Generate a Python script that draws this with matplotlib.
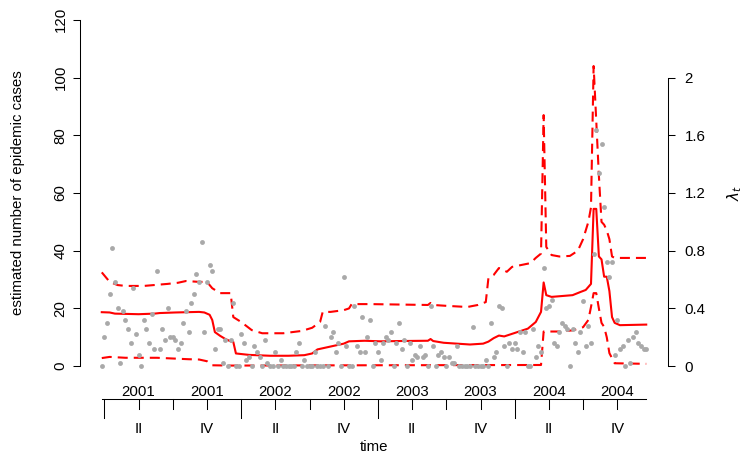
import matplotlib
matplotlib.use("Agg")
import matplotlib.pyplot as plt
import matplotlib.transforms as mtransforms

# observed weekly counts 2001-2004
counts = [
    0, 10, 15, 25, 41, 29, 20, 1, 19, 16, 13, 8, 27, 11, 4, 0, 16, 13, 8, 18,
    6, 33, 6, 13, 9, 20, 10, 10, 9, 6, 8, 15, 19, 12, 22, 25, 32, 29, 43, 12,
    29, 35, 33, 6, 13, 13, 1, 9, 0, 9, 22, 0, 0, 11, 8, 2, 3, 0, 7, 5,
    3, 0, 9, 1, 0, 0, 5, 0, 2, 0, 0, 0, 0, 0, 5, 8, 0, 2, 0, 0,
    0, 5, 0, 0, 0, 14, 0, 10, 12, 5, 8, 0, 31, 7, 0, 0, 21, 7, 5, 17,
    5, 10, 16, 0, 8, 5, 2, 8, 10, 9, 12, 0, 8, 15, 6, 9, 0, 8, 2, 4,
    3, 7, 3, 4, 0, 21, 7, 0, 4, 5, 3, 0, 3, 1, 1, 7, 0, 0, 0, 0,
    0, 13.5, 0, 0, 0, 0, 2, 0, 15, 3, 5, 21, 20, 7, 0, 8, 6, 8, 6, 12,
    5, 12, 0, 0, 13, 3, 7, 5, 34, 20, 21, 23, 8, 7, 12, 15, 14, 13, 0, 13,
    8, 5, 12, 22.5, 7, 14, 8, 39, 82, 67, 77, 55, 36, 31, 36, 4, 16, 6, 7, 0,
    9, 1, 10, 12, 8, 7, 6, 6,
]
weeks = list(range(1, len(counts) + 1))

# fitted mean (read at its vertices)
mean_wk = [1, 4, 6, 15, 21, 23, 29, 38, 40, 42, 43, 44, 46, 48, 50, 51, 52,
           57, 65, 72, 78, 81, 83, 86, 91, 93, 95, 101, 107, 114, 125, 126,
           127, 131, 141, 146, 148, 150, 152, 154, 159, 163, 166, 168, 169,
           170, 172, 180, 183, 185, 187, 188, 189, 190, 191, 192, 193, 194,
           195, 196, 198, 208]
mean_val = [18.7, 18.6, 18.2, 18.0, 18.2, 18.4, 18.6, 18.8, 18.6, 17.8, 16.0,
            11.8, 10.5, 9.4, 8.6, 8.4, 4.4, 3.9, 3.6, 3.6, 3.8, 4.4, 5.8, 6.4,
            7.4, 7.8, 8.6, 8.8, 8.6, 8.7, 8.8, 9.4, 8.7, 8.1, 7.5, 7.8, 8.5,
            9.7, 10.6, 10.3, 11.8, 13.0, 15.3, 18.8, 29.0, 24.6, 24.0, 24.6,
            25.7, 26.4, 28.5, 54.5, 54.5, 38.0, 37.0, 31.0, 31.0, 26.0, 17.0,
            15.0, 14.2, 14.4]

# upper bound
up_wk = [1, 4, 7, 10, 17, 26, 30, 33, 38, 41, 43, 46, 50, 51, 54, 58, 62, 70,
         77, 81, 84, 85, 88, 93, 95, 96, 103, 125, 126, 127, 132, 140, 144,
         147, 148, 150, 152, 155, 157, 164, 166, 168, 169, 170, 172, 175, 179,
         182, 184, 186, 187, 188, 189, 190, 191, 192, 193, 194, 195, 196, 208]
up_val = [32.5, 29.2, 28.1, 27.8, 27.8, 28.5, 28.9, 29.5, 29.2, 29.2, 27.0,
          25.3, 25.3, 17.0, 15.3, 12.5, 11.4, 11.4, 12.2, 13.3, 15.3, 18.8,
          18.8, 19.4, 20.0, 21.5, 21.5, 21.2, 21.9, 21.2, 20.9, 20.5, 21.2,
          22.2, 30.5, 31.6, 34.0, 32.7, 34.4, 35.7, 37.5, 39.0, 87.0, 41.3,
          38.5, 38.0, 38.2, 40.0, 44.0, 50.0, 55.0, 104.0, 85.0, 66.0, 50.0,
          49.0, 47.0, 44.0, 38.0, 37.5, 37.5]

# lower bound
lo_wk = [1, 4, 10, 22, 34, 38, 41, 43, 50, 100, 168, 169, 175, 180, 184, 186,
         187, 188, 189, 190, 191, 192, 193, 194, 196, 208]
lo_val = [2.8, 3.2, 2.9, 2.9, 2.4, 2.3, 1.7, 0.3, 0.2, 0.3, 0.4, 12.0, 12.0,
          12.4, 13.5, 16.0, 20.5, 25.3, 25.3, 20.0, 15.0, 13.6, 10.0, 4.5,
          1.0, 0.8]

years = ["2001", "2002", "2003", "2004"]
year_start_wk = [2, 54, 106, 158]
quarter_names = ["II", "IV"]

left_ticks = [0, 20, 40, 60, 80, 100, 120]
right_ticks = [0, 0.4, 0.8, 1.2, 1.6, 2]
right_labels = ["0", "0.4", "0.8", "1.2", "1.6", "2"]

plt.rcParams["font.family"] = ["Liberation Sans", "DejaVu Sans"]
FS = 10.8

W, H = 743, 454
fig = plt.figure(figsize=(W / 100, H / 100), dpi=100)
ax = fig.add_axes([80 / W, (H - 380) / H, 588 / W, 374 / H])

red = "#FF0000"
dash = (0, (4.8, 2.9))
ax.plot(up_wk, up_val, color=red, lw=1.5, linestyle=dash, zorder=2)
ax.plot(lo_wk, lo_val, color=red, lw=1.5, linestyle=dash, zorder=2)
ax.plot(mean_wk, mean_val, color=red, lw=1.5, zorder=3)
ax.plot(weeks, counts, linestyle="none", marker="o", markersize=3.5,
        markerfacecolor="#A9A9A9", markeredgecolor="none", zorder=4)

ax.set_xlim(1 - 0.04 * 207, 208 + 0.04 * 207)
ax.set_ylim(-4.8, 124.8)

for s in ["top", "bottom", "right"]:
    ax.spines[s].set_visible(False)
ax.spines["left"].set_bounds(0, 120)
ax.spines["left"].set_linewidth(0.75)
ax.set_yticks(left_ticks)
ax.set_yticklabels([str(t) for t in left_ticks], rotation=90, va="center",
                   fontsize=FS)
ax.tick_params(axis="y", length=5, width=0.75, pad=4)
ax.set_xticks([])

ax2 = ax.twinx()
ax2.set_ylim(-4.8 / 50, 124.8 / 50)
for s in ["top", "bottom", "left"]:
    ax2.spines[s].set_visible(False)
ax2.spines["right"].set_bounds(0, 2)
ax2.spines["right"].set_linewidth(0.75)
ax2.set_yticks(right_ticks)
ax2.set_yticklabels(right_labels, fontsize=FS)
ax2.tick_params(axis="y", length=5, width=0.75, pad=7)
ax2.set_xticks([])

# formatted time axis below the plot
trans = mtransforms.blended_transform_factory(ax.transData, ax.transAxes)
y_line = -19 / 374
y_long = -38 / 374
y_short = -29 / 374
ax.plot([1, 208], [y_line, y_line], color="black", lw=0.75,
        transform=trans, clip_on=False)
for i, ys in enumerate(year_start_wk):
    ax.plot([ys, ys], [y_line, y_long], color="black", lw=0.75,
            transform=trans, clip_on=False)
    for q in range(1, 4):
        wq = ys + 13 * q
        ax.plot([wq, wq], [y_line, y_short], color="black", lw=0.75,
                transform=trans, clip_on=False)
    for j, q in enumerate([1, 3]):
        wq = ys + 13 * q
        ax.text(wq, -12 / 374, years[i], transform=trans, ha="center",
                va="center", fontsize=FS)
        ax.text(wq, -49 / 374, quarter_names[j], transform=trans,
                ha="center", va="center", fontsize=FS)

fig.text(374 / W, 1 - 447 / H, "time", ha="center", va="center", fontsize=FS)
fig.text(18 / W, 1 - 193 / H, "estimated number of epidemic cases",
         rotation=90, ha="center", va="center", fontsize=FS)
fig.text(735 / W, 1 - 193 / H, r"$\lambda_t$", rotation=90, ha="center",
         va="center", fontsize=FS)

fig.savefig("out.png", dpi=100)
